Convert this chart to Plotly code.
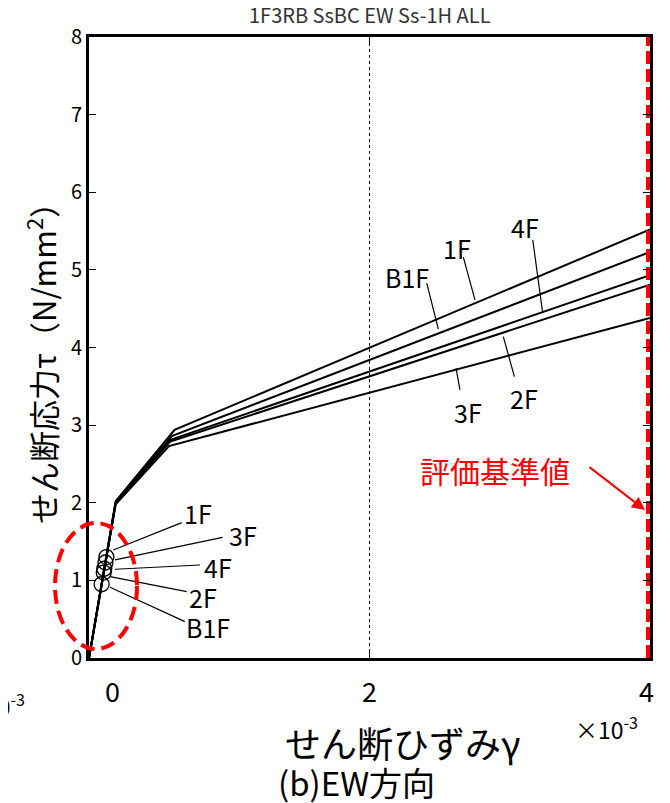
import plotly.graph_objects as go

# ---- data (shear strain in units of 1e-3, shear stress in N/mm^2) ----
floors = ["B1F", "1F", "2F", "3F", "4F"]
gamma_pts = {
    "B1F": [0.0, 0.19, 0.59, 4.0],
    "1F":  [0.0, 0.19, 0.61, 4.0],
    "2F":  [0.0, 0.19, 0.58, 4.0],
    "3F":  [0.0, 0.19, 0.57, 4.0],
    "4F":  [0.0, 0.19, 0.58, 4.0],
}
tau_pts = {
    "B1F": [0.0, 2.00, 2.86, 5.23],
    "1F":  [0.0, 2.02, 2.94, 5.52],
    "2F":  [0.0, 1.99, 2.79, 4.81],
    "3F":  [0.0, 1.98, 2.73, 4.38],
    "4F":  [0.0, 2.00, 2.81, 4.93],
}
# crack points (circles)
crack_gamma = {"B1F": 0.090, "1F": 0.124, "2F": 0.105, "3F": 0.117, "4F": 0.109}
crack_tau = {"B1F": 0.95, "1F": 1.30, "2F": 1.10, "3F": 1.23, "4F": 1.15}
criterion = 4.0  # evaluation criterion strain (x1e-3)
x_ticks = [0, 2, 4]
x_tick_text = ["0", "2", "4"]
y_ticks = [0, 1, 2, 3, 4, 5, 6, 7, 8]

FONT = "Noto Sans CJK JP"
fig = go.Figure()

for f in floors:
    fig.add_trace(go.Scatter(x=gamma_pts[f], y=tau_pts[f], mode="lines",
                             line=dict(color="black", width=2), showlegend=False,
                             hoverinfo="skip"))
fig.add_trace(go.Scatter(x=[crack_gamma[f] for f in floors], y=[crack_tau[f] for f in floors],
                         mode="markers", showlegend=False,
                         marker=dict(symbol="circle-open", size=15, color="black",
                                     line=dict(width=1.3, color="black"))))
# evaluation criterion (red dashed vertical line)
fig.add_trace(go.Scatter(x=[criterion, criterion], y=[0, 8], mode="lines", showlegend=False,
                         line=dict(color="#ff0000", width=8, dash="13px,5px")))

# leader lines: (label, x0, y0, x1, y1, text x, text y) in data units
upper_leaders = [
    ("B1F", 2.408, 4.829, 2.491, 4.236, 2.266, 4.910),
    ("1F", 2.669, 5.164, 2.752, 4.613, 2.624, 5.284),
    ("4F", 3.164, 5.387, 3.235, 4.442, 3.108, 5.554),
    ("2F", 2.954, 4.140, 3.033, 3.625, 3.101, 3.351),
    ("3F", 2.617, 3.733, 2.645, 3.454, 2.702, 3.170),
]
lower_leaders = [
    ("1F", 0.173, 1.392, 0.661, 1.744, 0.777, 1.869),
    ("3F", 0.185, 1.263, 0.953, 1.555, 1.098, 1.585),
    ("4F", 0.185, 1.143, 0.791, 1.198, 0.920, 1.173),
    ("2F", 0.150, 1.048, 0.697, 0.854, 0.813, 0.786),
    ("B1F", 0.150, 0.911, 0.684, 0.468, 0.848, 0.399),
]
shapes = []
annotations = []
for lab, x0, y0, x1, y1, tx, ty in upper_leaders + lower_leaders:
    shapes.append(dict(type="line", xref="x", yref="y", x0=x0, y0=y0, x1=x1, y1=y1,
                       line=dict(color="black", width=1.2)))
    annotations.append(dict(x=tx, y=ty, xref="x", yref="y", text=lab, showarrow=False,
                            xanchor="center", yanchor="middle",
                            font=dict(family=FONT, size=25, color="black")))

# red dashed ellipse around crack points
shapes.append(dict(type="circle", xref="paper", yref="paper", x0=-0.0606, x1=0.0856,
                   y0=0.0145, y1=0.2174, line=dict(color="#ff0000", width=4, dash="14px,7px"),
                   layer="above"))

# 評価基準値 text and arrow
annotations.append(dict(x=2.895, y=2.423, xref="x", yref="y", text="評価基準値", showarrow=False,
                        xanchor="center", yanchor="middle",
                        font=dict(family=FONT, size=30, color="#ff0000")))
annotations.append(dict(x=3.964, y=1.907, xref="x", yref="y", text="", showarrow=True,
                        ax=-57, ay=-44, arrowhead=2, arrowsize=1.3, arrowwidth=2,
                        arrowcolor="#ff0000"))

# x tick labels
x_shift = [23, 0, -4]
for v, t, s in zip(x_ticks, x_tick_text, x_shift):
    annotations.append(dict(x=v, y=0, xref="x", yref="paper", xanchor="center",
                            yanchor="middle", yshift=-32, xshift=s, text=t,
                            showarrow=False, font=dict(family=FONT, size=27, color="black")))

# multipliers
annotations.append(dict(x=0.982, y=-0.1127, xref="paper", yref="paper", xanchor="right",
                        yanchor="middle", text="×10<sup>-3</sup>", showarrow=False,
                        font=dict(family=FONT, size=23, color="black")))
annotations.append(dict(x=-0.1105, y=-0.0757, xref="paper", yref="paper", xanchor="right",
                        yanchor="middle", text="×10<sup>-3</sup>", showarrow=False,
                        font=dict(family=FONT, size=23, color="black")))

# axis titles and captions
annotations.append(dict(x=-0.0838, y=0.488, xref="paper", yref="paper", textangle=-90,
                        xanchor="center", yanchor="middle",
                        text="せん断応力τ（N/mm<sup>2</sup>）", showarrow=False,
                        font=dict(family=FONT, size=31, color="black")))
annotations.append(dict(x=0.558, y=-0.135, xref="paper", yref="paper",
                        xanchor="center", yanchor="middle",
                        text="せん断ひずみγ", showarrow=False,
                        font=dict(family=FONT, size=36, color="black")))
annotations.append(dict(x=0.476, y=-0.20, xref="paper", yref="paper",
                        xanchor="center", yanchor="middle",
                        text="(b)EW方向", showarrow=False,
                        font=dict(family=FONT, size=33, color="black")))
annotations.append(dict(x=0.5, y=1.037, xref="paper", yref="paper",
                        xanchor="center", yanchor="middle",
                        text="1F3RB SsBC EW Ss-1H ALL", showarrow=False,
                        font=dict(family=FONT, size=20, color="#333333")))

# The page adds an 8 px body margin, so the figure is 8 px smaller than the window
fig.update_layout(
    width=662, height=795,
    margin=dict(l=81, r=20, t=29, b=145),
    paper_bgcolor="white", plot_bgcolor="white",
    shapes=shapes, annotations=annotations,
    showlegend=False,
    xaxis=dict(range=[0, 4], tickvals=x_ticks, showticklabels=False,
               showline=True, linecolor="black", linewidth=3, mirror="ticks",
               ticks="inside", ticklen=7, tickwidth=1.2, tickcolor="black",
               showgrid=True, gridcolor="black", gridwidth=1, griddash="dot",
               zeroline=False),
    yaxis=dict(range=[0, 8], tickvals=y_ticks, showline=True, linecolor="black",
               linewidth=3, mirror="ticks", ticks="inside", ticklen=7, tickwidth=1.2,
               tickcolor="black", showgrid=False, zeroline=False,
               tickfont=dict(family=FONT, size=20, color="black")),
)

fig.write_html("out.html")
